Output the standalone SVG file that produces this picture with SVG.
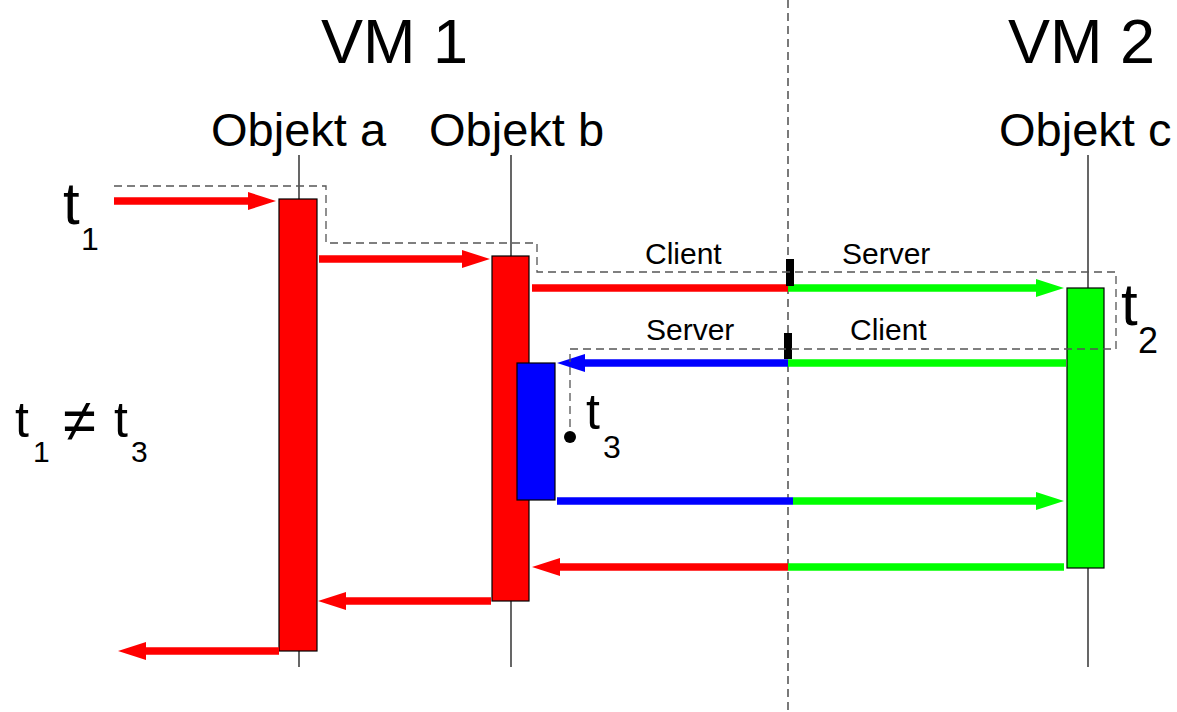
<svg xmlns="http://www.w3.org/2000/svg" width="1177" height="712" viewBox="0 0 1177 712">
  <style>
    text { font-family: "Liberation Sans", Arial, sans-serif; fill: #000; }
    .vm { font-size: 63px; }
    .obj { font-size: 47px; }
    .role { font-size: 30px; }
    .life { stroke: #000; stroke-width: 1.2; fill: none; }
    .divider { stroke: #222; stroke-width: 1.2; stroke-dasharray: 8 5; fill: none; }
    .thread { stroke: #555; stroke-width: 1.3; stroke-dasharray: 8 5; fill: none; }
    .act { stroke: #000; stroke-width: 1.2; }
    .msg { stroke-width: 7.5; fill: none; }
    .red { stroke: #ff0000; }
    .green { stroke: #00ff00; }
    .blue { stroke: #0000ff; }
  </style>
  <defs>
    <marker id="headRed" markerUnits="userSpaceOnUse" markerWidth="28" markerHeight="18" refX="0" refY="9" orient="auto">
      <path d="M0,0 L28,9 L0,18 z" fill="#ff0000"/>
    </marker>
    <marker id="headGreen" markerUnits="userSpaceOnUse" markerWidth="28" markerHeight="18" refX="0" refY="9" orient="auto">
      <path d="M0,0 L28,9 L0,18 z" fill="#00ff00"/>
    </marker>
    <marker id="headBlue" markerUnits="userSpaceOnUse" markerWidth="28" markerHeight="18" refX="0" refY="9" orient="auto">
      <path d="M0,0 L28,9 L0,18 z" fill="#0000ff"/>
    </marker>
  </defs>

  <rect x="0" y="0" width="1177" height="712" fill="#fff"/>

  <!-- VM boundary -->
  <line class="divider" x1="788" y1="0" x2="788" y2="712"/>

  <!-- titles -->
  <text class="vm" x="321" y="63">VM 1</text>
  <text class="vm" x="1008" y="63">VM 2</text>

  <!-- objects: label, lifeline, activation -->
  <g id="objekt-a">
    <text class="obj" x="211" y="146">Objekt a</text>
    <line class="life" x1="299" y1="155" x2="299" y2="667"/>
    <rect class="act" x="279" y="199" width="38" height="452" fill="#ff0000"/>
  </g>
  <g id="objekt-b">
    <text class="obj" x="429" y="146">Objekt b</text>
    <line class="life" x1="511" y1="155" x2="511" y2="667"/>
    <rect class="act" x="492" y="256" width="37" height="345" fill="#ff0000"/>
    <rect class="act" x="517" y="363" width="38" height="137" fill="#0000ff"/>
  </g>
  <g id="objekt-c">
    <text class="obj" x="999" y="146">Objekt c</text>
    <line class="life" x1="1088" y1="155" x2="1088" y2="667"/>
    <rect class="act" x="1067" y="288" width="37" height="280" fill="#00ff00"/>
  </g>

  <!-- messages -->
  <g id="connectors">
    <line class="msg red" x1="114" y1="201" x2="248" y2="201" marker-end="url(#headRed)"/>
    <line class="msg red" x1="319" y1="259" x2="462" y2="259" marker-end="url(#headRed)"/>

    <line class="msg red" x1="532" y1="288" x2="788" y2="288"/>
    <line class="msg green" x1="788" y1="288" x2="1036" y2="288" marker-end="url(#headGreen)"/>

    <line class="msg green" x1="1066" y1="363" x2="788" y2="363"/>
    <line class="msg blue" x1="788" y1="363" x2="585" y2="363" marker-end="url(#headBlue)"/>

    <line class="msg blue" x1="557" y1="501" x2="793" y2="501"/>
    <line class="msg green" x1="793" y1="501" x2="1036" y2="501" marker-end="url(#headGreen)"/>

    <line class="msg green" x1="1064" y1="567" x2="788" y2="567"/>
    <line class="msg red" x1="788" y1="567" x2="560" y2="567" marker-end="url(#headRed)"/>

    <line class="msg red" x1="491" y1="601" x2="346" y2="601" marker-end="url(#headRed)"/>
    <line class="msg red" x1="279" y1="651" x2="146" y2="651" marker-end="url(#headRed)"/>
  </g>

  <!-- client / server boundaries on the remote calls -->
  <g id="stubs">
    <rect x="786" y="259" width="8" height="27" fill="#000"/>
    <rect x="784" y="333" width="8" height="26" fill="#000"/>
    <text class="role" x="645" y="264">Client</text>
    <text class="role" x="842" y="264">Server</text>
    <text class="role" x="646" y="340">Server</text>
    <text class="role" x="850" y="340">Client</text>
  </g>

  <!-- thread path -->
  <g id="thread">
    <path class="thread" d="M114,186 H326 V243 H537 V272 H1116 V349 H570 V437"/>
    <circle cx="570" cy="437" r="6" fill="#000"/>
  </g>

  <!-- time labels -->
  <g id="t1">
    <text x="63" y="224" font-size="60">t</text>
    <text x="81" y="250" font-size="32">1</text>
  </g>
  <g id="t2">
    <text x="1121" y="325" font-size="60">t</text>
    <text x="1138" y="353" font-size="36">2</text>
  </g>
  <g id="t3">
    <text x="586" y="429" font-size="50">t</text>
    <text x="603" y="458" font-size="32">3</text>
  </g>
  <g id="t-neq">
    <text x="15" y="437" font-size="50">t</text>
    <text x="33" y="462" font-size="30">1</text>
    <text x="63" y="441" font-size="60">≠</text>
    <text x="114" y="437" font-size="50">t</text>
    <text x="131" y="462" font-size="30">3</text>
  </g>
</svg>
